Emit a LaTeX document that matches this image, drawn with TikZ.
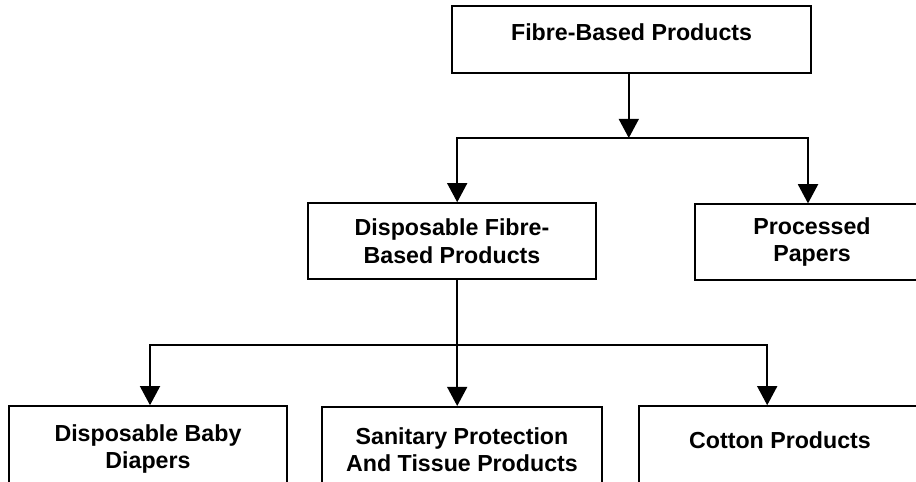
\documentclass[tikz,border=0pt]{standalone}
\usepackage{fontspec}
\setmainfont{Liberation Sans}
\usetikzlibrary{arrows.meta}

\tikzset{
    prodbox/.style={draw,line width=1.4pt,rectangle,align=center,inner sep=0pt,
        font=\fontsize{16.5}{19.5}\selectfont\bfseries},
    link/.style={line width=1.4pt},
    >={Triangle[width=5mm,length=4.8mm]}
}

\begin{document}
\begin{tikzpicture}
                \useasboundingbox (0,0) rectangle (22.9,-12.05);
                \clip (0,0) rectangle (22.9,-12.05);

                \node[prodbox,minimum width=8.98cm,minimum height=1.68cm,text depth=0.35cm] (fb) at (15.79,-0.99) {Fibre-Based Products};

                \node[prodbox,minimum width=7.2cm,minimum height=1.9cm] (dfb) at (11.3,-6.03) {Disposable Fibre-\\Based Products};
                \node[prodbox,minimum width=5.85cm,minimum height=1.88cm] (pp) at (20.3,-6.05) {Processed\\Papers};

                \node[prodbox,minimum width=6.95cm,minimum height=2.15cm] (bd) at (3.7,-11.23) {Disposable Baby\\Diapers};
                \node[prodbox,minimum width=7.0cm,minimum height=2.15cm] (stp) at (11.55,-11.25) {Sanitary Protection\\And Tissue Products};
                \node[prodbox,minimum width=7.05cm,minimum height=2.15cm,text depth=0.45cm] (cp) at (19.5,-11.23) {Cotton Products};

                \coordinate (j1) at (15.72,-3.45);
                \coordinate (jl) at (11.43,-3.45);
                \coordinate (jr) at (20.2,-3.45);

                \coordinate (k1) at (11.43,-8.625);
                \coordinate (kl) at (3.75,-8.625);
                \coordinate (kr) at (19.18,-8.625);

                \path[draw,link,->] (fb.south -| j1) -- (j1);
                \path[draw,link,->] (j1) -- (jl) -- (jl |- dfb.north);
                \path[draw,link,->] (j1) -- (jr) -- (jr |- pp.north);

                \path[draw,link,->] (dfb.south -| k1) -- (k1 |- stp.north);
                \path[draw,link,->] (k1) -- (kl) -- (kl |- bd.north);
                \path[draw,link,->] (k1) -- (kr) -- (kr |- cp.north);

            \end{tikzpicture}
\end{document}
